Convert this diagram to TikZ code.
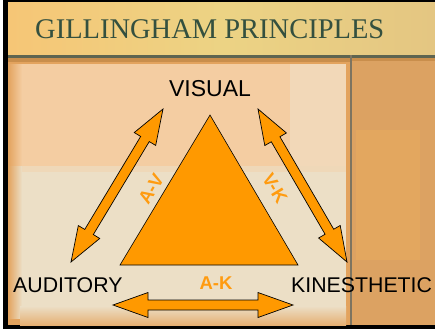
\documentclass[tikz,border=0pt]{standalone}
\usepackage{fontspec}
\setmainfont{Liberation Serif}
\setsansfont{Liberation Sans}
\usetikzlibrary{calc}
\definecolor{titlegreen}{HTML}{34503F}
\definecolor{bandL}{HTML}{F6C676}
\definecolor{bandM}{HTML}{ECD384}
\definecolor{bandR}{HTML}{E4C682}
\definecolor{darkline}{HTML}{5E6450}
\definecolor{brownband}{HTML}{C98E4C}
\definecolor{outerorange}{HTML}{E3A35E}
\definecolor{peach}{HTML}{F4CDA2}
\definecolor{beige}{HTML}{ECDFC6}
\definecolor{paleright}{HTML}{F2D8B8}
\definecolor{rightorange}{HTML}{DCA262}
\definecolor{rightlight}{HTML}{E3A75F}
\definecolor{vline}{HTML}{7D7460}
\definecolor{arroworange}{HTML}{FF9900}
\definecolor{labelorange}{HTML}{FF9B10}
\newcommand\blockarrow[2]{%
  \draw[barrow] let \p1=(#1),\p2=(#2),
    \n1={atan2(\y2-\y1,\x2-\x1)},\n2={veclen(\x2-\x1,\y2-\y1)-70} in
    (#1) -- ++(\n1+19.65:37.17) -- ++(\n1-90:7.5) -- ++(\n1:\n2)
    -- ++(\n1+90:7.5) -- ++(\n1-19.65:37.17) -- ++(\n1+199.65:37.17)
    -- ++(\n1+90:7.5) -- ++(\n1+180:\n2) -- ++(\n1-90:7.5) -- cycle;}
\begin{document}
\begin{tikzpicture}[x=1pt,y=1pt,
  barrow/.style={draw=black,line width=0.7pt,fill=arroworange,line join=miter},
  tri/.style={draw=black,line width=0.6pt,fill=arroworange},
  sense/.style={font=\sffamily\fontsize{21.3}{24}\selectfont,text=black,inner sep=0pt},
  pair/.style={font=\sffamily\bfseries\fontsize{18.5}{21}\selectfont,text=labelorange,inner sep=0pt},
  titletext/.style={font=\fontsize{28.5}{32}\selectfont,text=titlegreen,inner sep=0pt}]
\useasboundingbox (0,0) rectangle (435,-329);
% frame
\fill[white] (0,0) rectangle (435,-329);
\fill[black] (3,0) rectangle (435,-329);
% title band
\shade[left color=bandL,right color=bandR,middle color=bandM] (8,-3) rectangle (435,-55);
\fill[darkline] (8,-55) rectangle (435,-58);
% lower background
\fill[outerorange] (8,-58) rectangle (351,-325);
\fill[brownband] (8,-58) rectangle (351,-62);
\fill[peach] (20,-64) rectangle (346,-166);
\fill[beige] (20,-166) rectangle (346,-318);
\fill[paleright] (290,-64) rectangle (346,-166);
\fill[beige!60!peach] (20,-166) rectangle (346,-172);
\shade[left color=outerorange,right color=peach] (8,-64) rectangle (22,-166);
\shade[left color=outerorange,right color=beige] (8,-166) rectangle (22,-318);
\shade[top color=beige,bottom color=outerorange!80!beige] (20,-306) rectangle (346,-325);
% right region
\fill[rightorange] (351,-58) rectangle (435,-325);
\fill[rightlight] (356,-130) rectangle (420,-260);
\fill[brownband] (351,-58) rectangle (435,-61);
\fill[vline] (350,-55) rectangle (352,-325);
% title
\node[titletext,anchor=base west] (title) at (35,-38) {GILLINGHAM PRINCIPLES};
% sense labels
\node[sense,font=\sffamily\fontsize{23}{26}\selectfont,anchor=base] (visual) at (210,-96.5) {VISUAL};
\node[sense,anchor=base west] (auditory) at (13,-292) {AUDITORY};
\node[sense,anchor=base west] (kinesthetic) at (291,-292) {KINESTHETIC};
% triangle
\coordinate (tA) at (210,-115);
\coordinate (tB) at (120,-265);
\coordinate (tC) at (298,-265);
\draw[tri] (tA) -- (tB) -- (tC) -- cycle;
% arrows
\coordinate (av1) at (71,-262);
\coordinate (av2) at (163,-109);
\coordinate (vk1) at (258,-109);
\coordinate (vk2) at (347,-262);
\coordinate (ak1) at (113,-305);
\coordinate (ak2) at (293,-305);
\blockarrow{av1}{av2}
\blockarrow{vk1}{vk2}
\blockarrow{ak1}{ak2}
% pair labels
\node[pair,rotate=59] (avlabel) at (151,-189) {A-V};
\node[pair,rotate=-59] (vklabel) at (275,-188) {V-K};
\node[pair] (aklabel) at (216,-283) {A-K};
\end{tikzpicture}
\end{document}
